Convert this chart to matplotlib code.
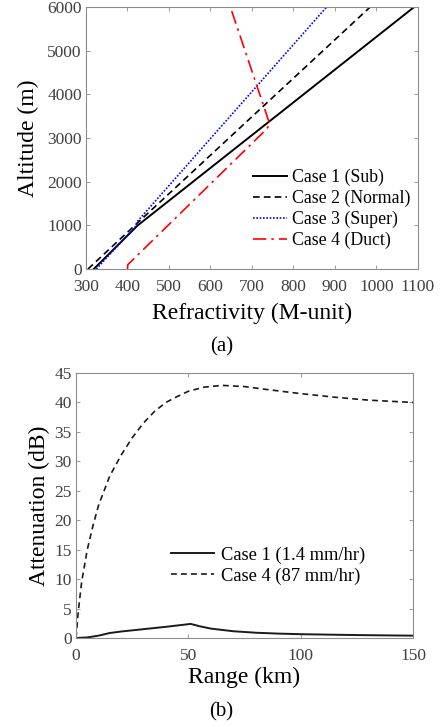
import matplotlib
matplotlib.use('Agg')
import matplotlib.pyplot as plt

plt.rcParams['font.family'] = ['Liberation Serif', 'DejaVu Serif']
plt.rcParams['mathtext.fontset'] = 'stix'

# (a) refractivity profiles: M-units vs altitude (m)
case1_m = [319, 425, 1091]
case1_alt = [0, 1000, 6000]
case2_m = [305, 418, 985]
case2_alt = [0, 1000, 6000]
case3_m = [325, 420, 424, 880]
case3_alt = [0, 980, 1090, 6000]
case4_m = [400, 401, 735, 742, 740, 648]
case4_alt = [0, 100, 3200, 3300, 3400, 6000]

# (b) rain attenuation vs range
range1_km = [0, 5, 10, 15, 20, 30, 40, 50, 51, 55, 60, 70, 80, 90, 100, 125, 150]
atten1_db = [0, 0.1, 0.4, 0.85, 1.1, 1.5, 1.9, 2.35, 2.4, 2.0, 1.6, 1.15, 0.9, 0.75, 0.65, 0.5, 0.4]
range4_km = [0, 1, 2.5, 5, 7.5, 10, 15, 20, 25, 30, 35, 40, 45, 50, 57, 65, 75, 85, 100, 115, 130, 150]
atten4_db = [0, 4.5, 9.5, 15, 19, 22.5, 27.5, 31, 34, 36.5, 38.5, 40, 41, 41.9, 42.6, 42.9, 42.7, 42.2, 41.5, 40.9, 40.4, 40.0]

edge = '#8c8c8c'
tickc = '#404040'

def style_axes(ax):
    for s in ax.spines.values():
        s.set_color(edge)
        s.set_linewidth(0.8)
    ax.tick_params(direction='in', top=True, right=True, length=3, width=0.6,
                   color=edge, labelcolor=tickc, labelsize=12.5)
    ax.tick_params(axis='x', pad=7.5)
    ax.tick_params(axis='y', pad=3)

fig = plt.figure(figsize=(4.43, 7.27), dpi=100)

# ---- (a)
ax1 = fig.add_axes([0.194, 0.630, 0.7494, 0.3604])
ax1.plot(case1_m, case1_alt, color='black', lw=1.4, ls='-', label='Case 1 (Sub)')
ax1.plot(case2_m, case2_alt, color='black', lw=1.2, ls=(0, (4, 2.5)), label='Case 2 (Normal)')
ax1.plot(case3_m, case3_alt, color='blue', lw=1.2, ls=(0, (1, 1)), label='Case 3 (Super)')
ax1.plot(case4_m, case4_alt, color='red', lw=1.2, ls=(0, (8, 3, 1.5, 3)), label='Case 4 (Duct)')
ax1.set_xlim(300, 1100)
ax1.set_ylim(0, 6000)
ax1.set_xticks(range(300, 1101, 100))
ax1.set_yticks(range(0, 6001, 1000))
style_axes(ax1)
ax1.set_xlabel('Refractivity (M-unit)', fontsize=17)
ax1.set_ylabel('Altitude (m)', fontsize=17)
ax1.xaxis.set_label_coords(0.5, -0.128)
ax1.yaxis.set_label_coords(-0.140, 0.5)
ax1.legend(loc='upper left', bbox_to_anchor=(0.503, 0.381), frameon=False, fontsize=12.8,
           handlelength=1.9, handletextpad=0.3, labelspacing=0.2, borderpad=0, borderaxespad=0)
fig.text(0.5, 1 - 347 / 727, '(a)', ha='center', va='center', fontsize=15)

# ---- (b)
ax2 = fig.add_axes([0.1716, 0.1224, 0.7607, 0.3645])
ax2.plot(range1_km, atten1_db, color='#1a1a1a', lw=1.4, ls='-', label='Case 1 (1.4 mm/hr)')
ax2.plot(range4_km, atten4_db, color='#1a1a1a', lw=1.2, ls=(0, (3.5, 2.5)), label='Case 4 (87 mm/hr)')
ax2.set_xlim(0, 150)
ax2.set_ylim(0, 45)
ax2.set_xticks([0, 50, 100, 150])
ax2.set_yticks(range(0, 46, 5))
style_axes(ax2)
ax2.set_xlabel('Range (km)', fontsize=17)
ax2.set_ylabel('Attenuation (dB)', fontsize=17)
ax2.xaxis.set_label_coords(0.5, -0.109)
ax2.yaxis.set_label_coords(-0.078, 0.5)
ax2.legend(loc='upper left', bbox_to_anchor=(0.282, 0.345), frameon=False, fontsize=13.3,
           handlelength=2.3, handletextpad=0.38, labelspacing=0.2, borderpad=0, borderaxespad=0)
fig.text(0.5, 1 - 712 / 727, '(b)', ha='center', va='center', fontsize=15)

fig.savefig('out.png', dpi=100)
